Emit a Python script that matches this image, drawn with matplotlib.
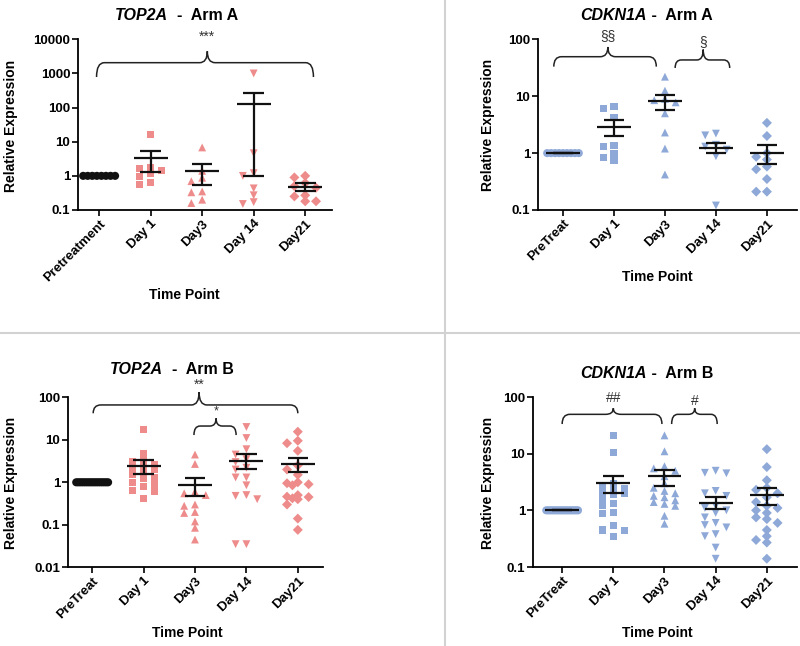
import numpy as np
import matplotlib
matplotlib.use("Agg")
import matplotlib.pyplot as plt
import matplotlib.transforms as mtransforms
from matplotlib.path import Path
from matplotlib.patches import PathPatch
from matplotlib.lines import Line2D

plt.rcParams["font.family"] = ["Liberation Sans", "DejaVu Sans"]
plt.rcParams["font.weight"] = "bold"

# ---- data ----
cats_a = ["Pretreatment", "Day 1", "Day3", "Day 14", "Day21"]
cats_b = ["PreTreat", "Day 1", "Day3", "Day 14", "Day21"]

# TOP2A - Arm A
top2a_a = [
    [1, 1, 1, 1, 1, 1, 1, 1],
    [16.6, 1.8, 1.65, 1.4, 1.15, 0.95, 0.65, 0.55],
    [6.8, 1.4, 0.88, 0.7, 0.35, 0.33, 0.2, 0.16],
    [1000, 4.6, 1.2, 1.0, 0.43, 0.27, 0.17, 0.15],
    [1.0, 0.9, 0.62, 0.5, 0.45, 0.25, 0.27, 0.18, 0.18],
]
top2a_a_mean = [1, 3.28, 1.39, 129, 0.48]
top2a_a_lo = [1, 1.33, 0.54, 1.0, 0.37]
top2a_a_hi = [1, 5.4, 2.19, 264, 0.61]

# CDKN1A - Arm A
cdkn_a = [
    [1, 1, 1, 1, 1, 1, 1, 1, 1],
    [6.7, 6.0, 4.3, 1.35, 1.3, 1.0, 0.85, 0.73],
    [22, 12.5, 9.0, 8.5, 7.8, 5.0, 2.3, 1.2, 0.42],
    [2.2, 2.05, 1.4, 1.3, 1.15, 0.88, 0.12],
    [3.4, 2.0, 1.0, 0.86, 0.77, 0.58, 0.52, 0.35, 0.21, 0.21],
]
cdkn_a_mean = [1, 2.82, 8.1, 1.25, 1.0]
cdkn_a_lo = [1, 2.0, 5.7, 1.0, 0.65]
cdkn_a_hi = [1, 3.8, 10.4, 1.5, 1.38]

# TOP2A - Arm B
top2a_b = [
    [1] * 18,
    [17.5, 4.8, 3.2, 3.0, 2.6, 2.4, 2.1, 2.0, 1.7, 1.5, 1.3, 1.2, 1.0, 0.9,
     0.8, 0.65, 0.6, 0.42],
    [4.5, 2.7, 0.6, 0.55, 0.5, 0.3, 0.28, 0.2, 0.19, 0.12, 0.085, 0.045],
    [20, 11, 6.0, 4.5, 3.5, 3.0, 2.2, 2.0, 1.3, 1.3, 0.85, 0.5, 0.48, 0.4,
     0.035, 0.035],
    [15.5, 9.5, 8.3, 5.5, 2.5, 2.0, 1.5, 1.0, 0.95, 0.9, 0.85, 0.5, 0.46,
     0.45, 0.42, 0.4, 0.3, 0.14, 0.076],
]
top2a_b_mean = [1, 2.42, 0.86, 3.22, 2.7]
top2a_b_lo = [1, 1.57, 0.48, 2.03, 1.75]
top2a_b_hi = [1, 3.35, 1.24, 4.55, 3.67]

# CDKN1A - Arm B
cdkn_b = [
    [1] * 18,
    [21, 10.5, 3.0, 2.6, 2.4, 2.2, 2.1, 2.0, 1.9, 1.6, 1.3, 1.2, 0.9, 0.88,
     0.55, 0.45, 0.44, 0.34],
    [21, 11, 6.0, 5.5, 5.0, 4.0, 3.0, 2.5, 2.2, 2.0, 1.8, 1.7, 1.5, 1.4,
     1.3, 1.2, 0.8, 0.58],
    [5.0, 4.6, 4.5, 2.2, 2.0, 1.8, 1.2, 1.1, 1.0, 0.9, 0.75, 0.6, 0.55, 0.5,
     0.38, 0.35, 0.22, 0.14],
    [12, 5.8, 3.4, 2.5, 2.3, 2.0, 1.7, 1.4, 1.2, 1.1, 1.0, 0.9, 0.75, 0.7,
     0.6, 0.45, 0.35, 0.3, 0.27, 0.14],
]
cdkn_b_mean = [1, 3.0, 4.0, 1.36, 1.86]
cdkn_b_lo = [1, 2.04, 2.7, 1.04, 1.24]
cdkn_b_hi = [1, 4.0, 5.1, 1.7, 2.5]

# ---- styling ----
W, H = 800, 646
RED = "#EE8C8C"
BLUE = "#8EA9D8"
markers = ["o", "s", "^", "v", "D"]
msizes = [34, 26, 32, 32, 26]

fig = plt.figure(figsize=(W / 100, H / 100), dpi=100)


def px_rect(l, r, t, b):
    return [l / W, 1 - b / H, (r - l) / W, (b - t) / H]


def swarm(vals, step, thr):
    # simple column arrangement like a scatter dot plot
    logs = np.log10(vals)
    offs = np.zeros(len(vals))
    placed = []
    cands = [0, -1, 1, -0.5, 0.5, -1.5, 1.5]
    for i in np.argsort(vals)[::-1]:
        best, best_d = 0, -1
        for c in cands:
            d = min([max(abs(c - pc) / 0.9, abs(logs[i] - pl) / thr)
                     for pc, pl in placed] + [9])
            if d >= 1:
                best = c
                break
            if d > best_d:
                best, best_d = c, d
        offs[i] = best * step
        placed.append((best, logs[i]))
    return offs


def brace(ax, x0, x1, xm, y_end, y_mid, y_tip, r, label, y_text, fs):
    tr = mtransforms.blended_transform_factory(ax.transData, ax.transAxes)
    verts = [(x0, y_end), (x0, y_mid), (x0 + r, y_mid), (xm - r, y_mid),
             (xm, y_mid), (xm, y_tip), (xm, y_mid), (xm + r, y_mid),
             (x1 - r, y_mid), (x1, y_mid), (x1, y_end)]
    codes = [Path.MOVETO, Path.CURVE3, Path.CURVE3, Path.LINETO,
             Path.CURVE3, Path.CURVE3, Path.CURVE3, Path.CURVE3,
             Path.LINETO, Path.CURVE3, Path.CURVE3]
    ax.add_patch(PathPatch(Path(verts, codes), fill=False, lw=1.1,
                           color="#222222", transform=tr, clip_on=False))
    ax.text(xm, y_text, label, transform=tr, ha="center", va="center",
            fontsize=fs, fontweight="normal", color="#333333")


def panel(rect, groups, means, lo, hi, cats, color, pre_color, yticks, ylabels,
          xlim, braces, title_gene, title_rest, title_xy, ylab_xy, xlab_xy):
    ax = fig.add_axes(px_rect(*rect))
    ax.set_yscale("log")
    ax.set_ylim(yticks[0], yticks[-1])
    ax.set_xlim(*xlim)
    ppd = (rect[3] - rect[2]) / (len(yticks) - 1)
    thr = 6.0 / ppd
    for i, vals in enumerate(groups):
        vals = np.array(vals, dtype=float)
        if np.all(vals == vals[0]):
            offs = np.linspace(-0.31, 0.31, len(vals))
            c = pre_color
        else:
            offs = swarm(vals, 0.21, thr)
            c = color
        ax.scatter(i + offs, vals, marker=markers[i], s=msizes[i], color=c,
                   edgecolor="none", zorder=3)
        ax.hlines(means[i], i - 0.33, i + 0.33, color="#111111", lw=1.6, zorder=4)
        ax.vlines(i, lo[i], hi[i], color="#111111", lw=1.6, zorder=4)
        ax.hlines([lo[i], hi[i]], i - 0.2, i + 0.2, color="#111111", lw=1.6, zorder=4)
    ax.set_xticks(range(len(cats)))
    ax.set_xticklabels(cats, rotation=45, ha="right", rotation_mode="anchor",
                       fontsize=9.5, fontweight="bold")
    ax.set_yticks(yticks)
    ax.set_yticklabels(ylabels, fontsize=9.5, fontweight="bold")
    ax.yaxis.set_minor_locator(matplotlib.ticker.NullLocator())
    for s in ["top", "right"]:
        ax.spines[s].set_visible(False)
    for s in ["left", "bottom"]:
        ax.spines[s].set_linewidth(1.3)
    ax.tick_params(direction="out", length=4, width=1.2, pad=1.5)
    for b in braces:
        brace(ax, *b)
    tx, ty = title_xy
    fig.text(tx / W, 1 - ty / H, title_gene, ha="right", va="center",
             fontsize=11.5, fontweight="bold", style="italic")
    fig.text(tx / W, 1 - ty / H, title_rest, ha="left", va="center",
             fontsize=11.5, fontweight="bold")
    fig.text(ylab_xy[0] / W, 1 - ylab_xy[1] / H, "Relative Expression",
             rotation=90, ha="center", va="center", fontsize=10, fontweight="bold")
    fig.text(xlab_xy[0] / W, 1 - xlab_xy[1] / H, "Time Point",
             ha="center", va="center", fontsize=10, fontweight="bold")
    return ax


panel((78, 332, 39.3, 210), top2a_a, top2a_a_mean, top2a_a_lo, top2a_a_hi,
      cats_a, RED, "#111111", [0.1, 1, 10, 100, 1000, 10000],
      ["0.1", "1", "10", "100", "1000", "10000"], (-0.41, 4.52),
      [(-0.05, 4.16, 2.1, 0.779, 0.863, 0.93, 0.15, "***", 1.015, 10)],
      "TOP2A", "  -  Arm A", (168, 15), (11, 126), (184, 295))

panel((538, 797, 39.3, 210), cdkn_a, cdkn_a_mean, cdkn_a_lo, cdkn_a_hi,
      cats_b, BLUE, BLUE, [0.1, 1, 10, 100], ["0.1", "1", "10", "100"],
      (-0.49, 4.59),
      [(-0.18, 1.83, 0.88, 0.84, 0.898, 0.955, 0.15, "§§", 1.02, 10),
       (2.2, 3.27, 2.75, 0.832, 0.879, 0.94, 0.12, "§", 0.985, 10)],
      "CDKN1A", " -  Arm A", (647, 15), (488, 125), (657, 277))

panel((68, 323, 397.3, 567.3), top2a_b, top2a_b_mean, top2a_b_lo, top2a_b_hi,
      cats_b, RED, "#111111", [0.01, 0.1, 1, 10, 100],
      ["0.01", "0.1", "1", "10", "100"], (-0.47, 4.49),
      [(0.02, 4.0, 2.08, 0.906, 0.955, 1.03, 0.15, "**", 1.072, 10),
       (1.98, 2.8, 2.41, 0.778, 0.831, 0.876, 0.12, "*", 0.915, 9)],
      "TOP2A", "  -  Arm B", (163, 370), (11, 483), (187, 633))

panel((533, 797, 397, 567), cdkn_b, cdkn_b_mean, cdkn_b_lo, cdkn_b_hi,
      cats_b, BLUE, BLUE, [0.1, 1, 10, 100], ["0.1", "1", "10", "100"],
      (-0.57, 4.59),
      [(0.0, 1.95, 1.0, 0.841, 0.898, 0.934, 0.15, "##", 0.992, 10),
       (2.14, 3.03, 2.59, 0.841, 0.898, 0.934, 0.12, "#", 0.975, 10)],
      "CDKN1A", " -  Arm B", (647, 374), (488, 483), (657, 633))

# panel separators
fig.add_artist(Line2D([445 / W, 445 / W], [0, 1], transform=fig.transFigure,
                      color="#d2d2d2", lw=1.5))
fig.add_artist(Line2D([0, 1], [1 - 333.3 / H, 1 - 333.3 / H],
                      transform=fig.transFigure, color="#d2d2d2", lw=1.5))

fig.savefig("out.png", dpi=100)
